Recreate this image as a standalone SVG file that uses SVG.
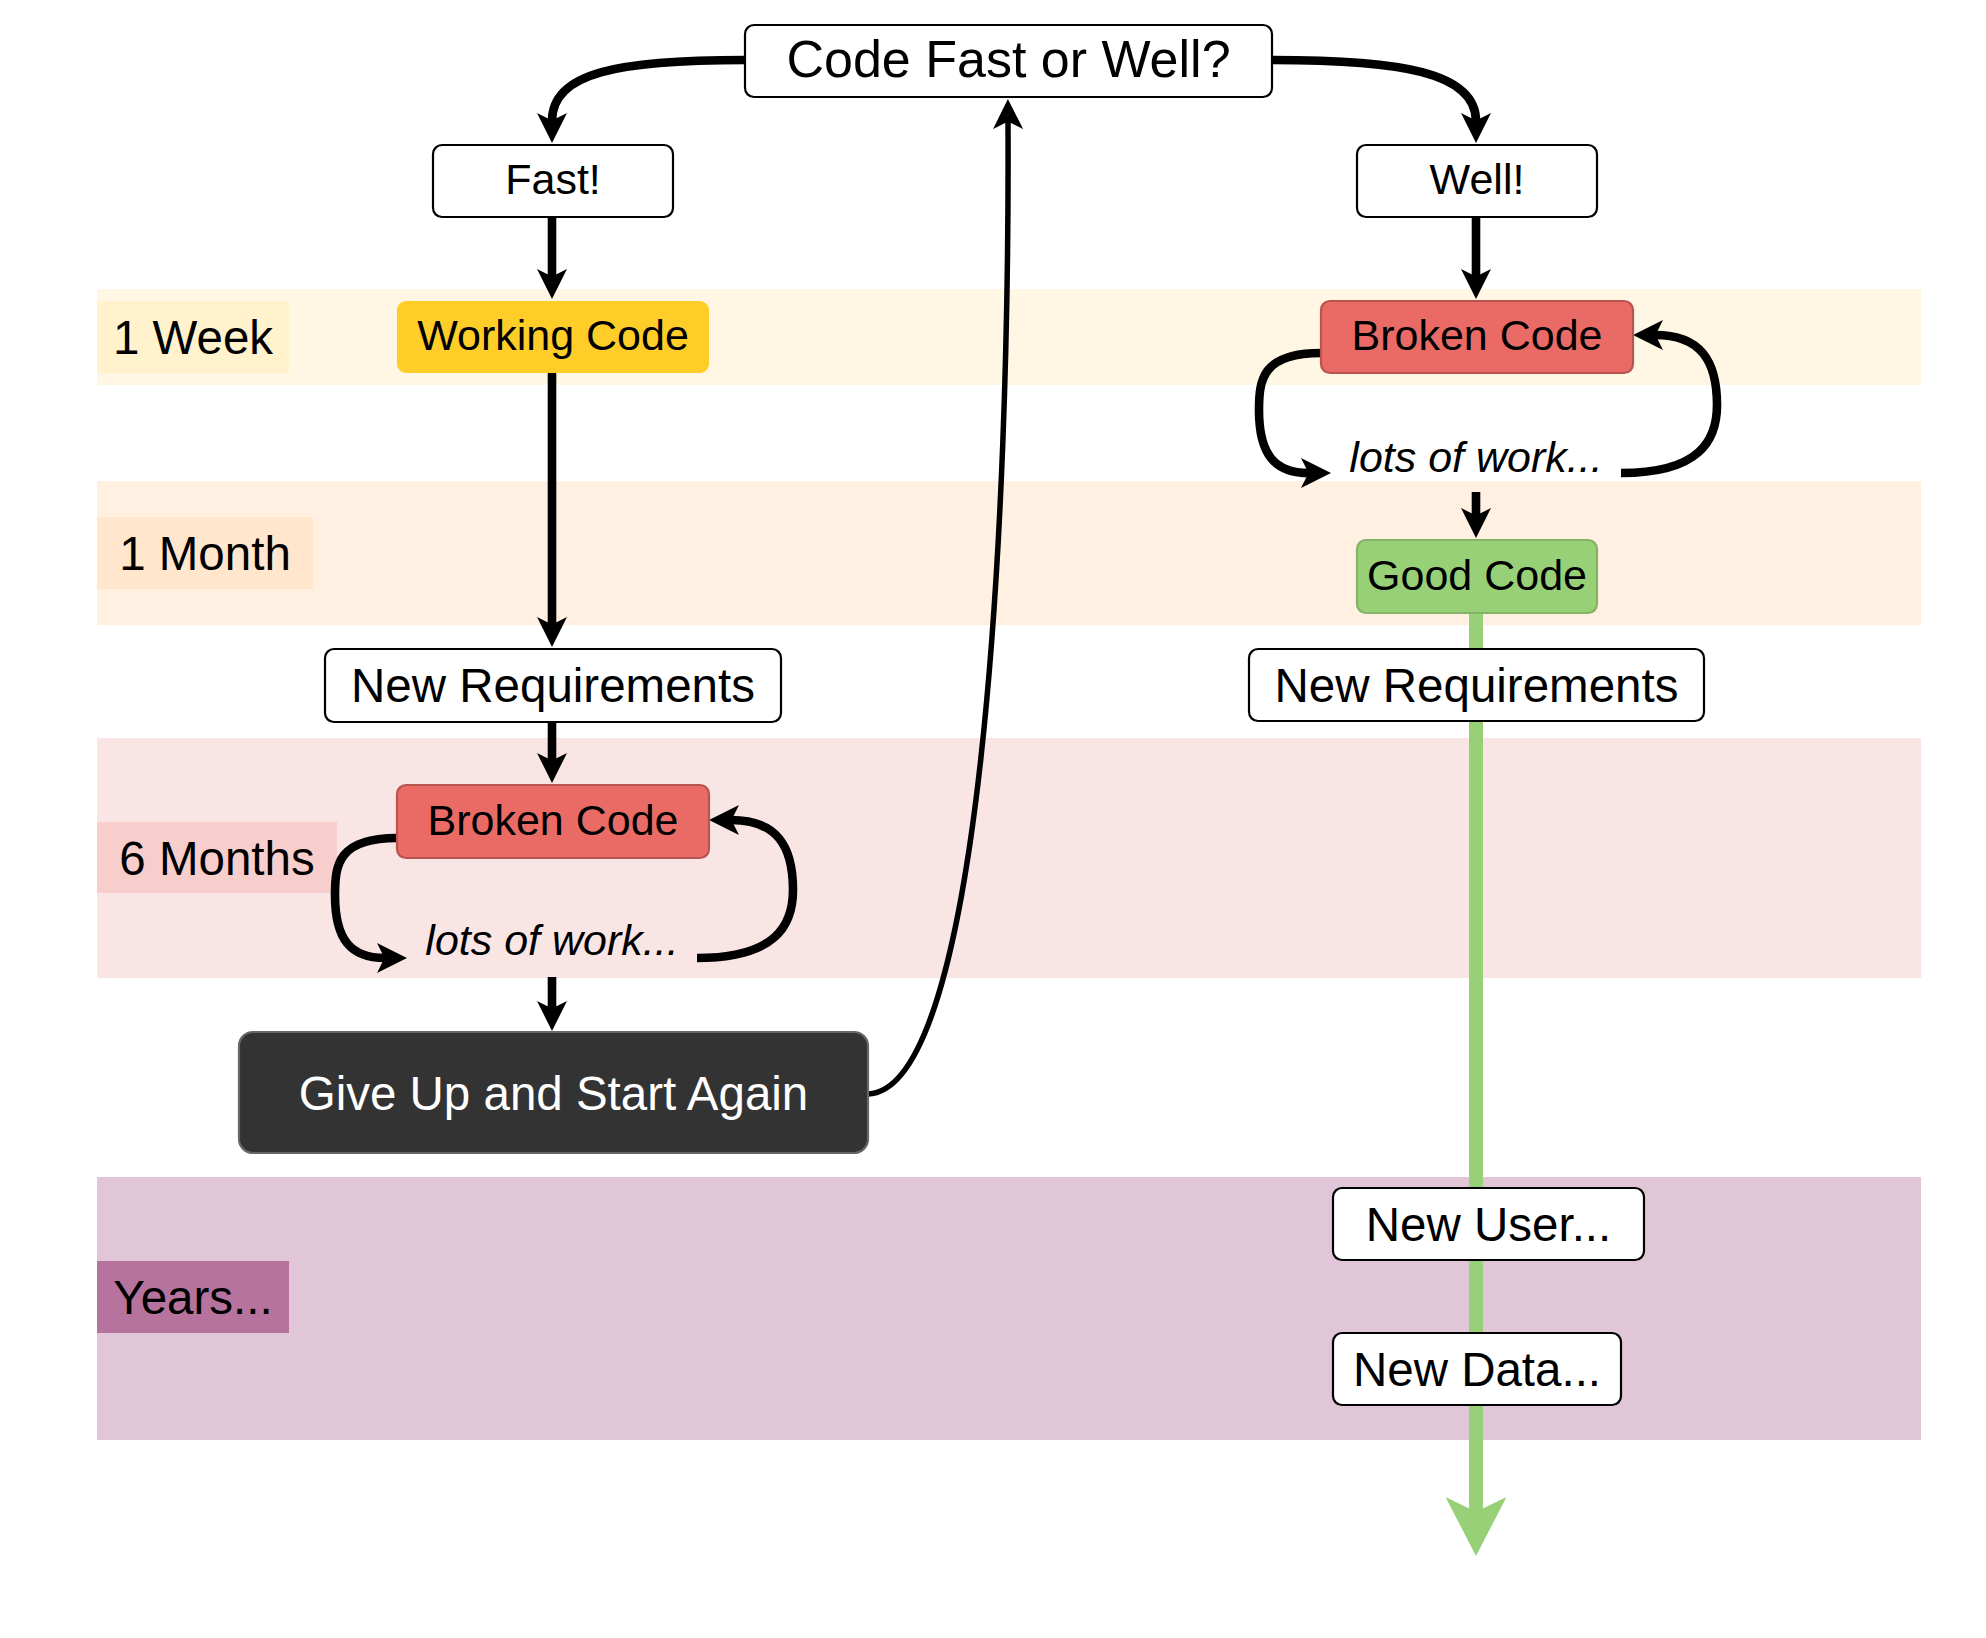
<svg xmlns="http://www.w3.org/2000/svg" width="1986" height="1638" viewBox="0 0 1986 1638">
<defs>
<marker id="ah" markerUnits="userSpaceOnUse" markerWidth="30" markerHeight="30" refX="8" refY="15" orient="auto" viewBox="0 0 30 30"><path d="M0,0 L30,15 L0,30 L7.5,15 Z" fill="#000"/></marker>
<marker id="ahg" markerUnits="userSpaceOnUse" markerWidth="59" markerHeight="61" refX="15" refY="30.5" orient="auto" viewBox="0 0 59 61"><path d="M0,0 L59,30.5 L0,61 L14.75,30.5 Z" fill="#97D077"/></marker>
<style>
.t{font-family:"Liberation Sans",Arial,Helvetica,sans-serif;fill:#000;text-anchor:middle}
.s43{font-size:43px}
.s47{font-size:47.5px}
.s52{font-size:52px}
.it{font-style:italic}
.box{fill:#fff;stroke:#000;stroke-width:2.2}
.red{fill:#EA6B66;stroke:#B85450;stroke-width:2.2}
.e{fill:none;stroke:#000;stroke-width:8.6;marker-end:url(#ah)}
</style>
</defs>
<rect width="1986" height="1638" fill="#fff"/>
<g id="bands">
<rect x="97" y="289" width="1824" height="96" fill="#FFF7E4"/>
<rect x="97" y="481" width="1824" height="144" fill="#FFF0E2"/>
<rect x="97" y="738" width="1824" height="240" fill="#FAE5E5"/>
<rect x="97" y="1177" width="1824" height="263" fill="#E1C6D8"/>
</g>
<g id="label-week"><rect x="97" y="301" width="192" height="72" fill="#FFF2CC"/><text class="t s47" x="193" y="354">1 Week</text></g>
<g id="label-month"><rect x="97" y="517" width="216" height="72" fill="#FFE6CC"/><text class="t s47" x="205" y="570">1 Month</text></g>
<g id="label-6months"><rect x="97" y="822" width="240" height="71" fill="#F8CECC"/><text class="t s47" x="217" y="874.5">6 Months</text></g>
<g id="label-years"><rect x="97" y="1261" width="192" height="72" fill="#B5739D"/><text class="t s47" x="193" y="1314">Years...</text></g>
<g id="connectors">
<path d="M1476 613 V1512" fill="none" stroke="#97D077" stroke-width="14" marker-end="url(#ahg)"/>
<path class="e" d="M745 60 C620 60 552 72 552 121"/>
<path class="e" d="M1272 60 C1400 60 1476 72 1476 121"/>
<path class="e" d="M552 217 V277"/>
<path class="e" d="M1476 217 V277"/>
<path class="e" d="M552 373 V625"/>
<path class="e" d="M552 722 V761"/>
<path class="e" d="M1321 353 C1262 353 1259 380 1259 410 C1259 455 1275 473 1309 473"/>
<path class="e" d="M1621 473 C1700 473 1717 440 1717 405 C1717 360 1700 335 1655 335"/>
<path class="e" d="M1476 492 V516"/>
<path class="e" d="M397 838 C338 838 335 865 335 895 C335 940 351 958 385 958"/>
<path class="e" d="M697 958 C776 958 793 925 793 890 C793 845 776 820 731 820"/>
<path class="e" d="M552 977 V1009"/>
<path class="e" style="stroke-width:5.5" d="M868 1094 C980 1090 1010 530 1008 121"/>
</g>
<g id="n-question"><rect class="box" x="745" y="25" width="527" height="72" rx="9"/><text class="t s52" x="1008.5" y="77">Code Fast or Well?</text></g>
<g id="n-fast"><rect class="box" x="433" y="145" width="240" height="72" rx="9"/><text class="t s43" x="553" y="194">Fast!</text></g>
<g id="n-well"><rect class="box" x="1357" y="145" width="240" height="72" rx="9"/><text class="t s43" x="1477" y="194">Well!</text></g>
<g id="n-working"><rect x="397" y="301" width="312" height="72" rx="9" fill="#FFCD28"/><text class="t s43" x="553" y="350">Working Code</text></g>
<g id="n-broken-r"><rect class="red" x="1321" y="301" width="312" height="72" rx="9"/><text class="t s43" x="1477" y="350">Broken Code</text></g>
<g id="n-lots-r"><text class="t s43 it" x="1476" y="472">lots of work...</text></g>
<g id="n-good"><rect x="1357" y="540" width="240" height="73" rx="9" fill="#97D077" stroke="#82B366" stroke-width="2.2"/><text class="t s43" x="1477" y="589.5">Good Code</text></g>
<g id="n-newreq-l"><rect class="box" x="325" y="649" width="456" height="73" rx="9"/><text class="t s47" x="553" y="702.4">New Requirements</text></g>
<g id="n-newreq-r"><rect class="box" x="1249" y="649" width="455" height="72" rx="9"/><text class="t s47" x="1476.5" y="702">New Requirements</text></g>
<g id="n-broken-l"><rect class="red" x="397" y="785" width="312" height="73" rx="9"/><text class="t s43" x="553" y="834.5">Broken Code</text></g>
<g id="n-lots-l"><text class="t s43 it" x="552" y="955">lots of work...</text></g>
<g id="n-giveup"><rect x="239" y="1032" width="629" height="121" rx="14" fill="#333333" stroke="#666666" stroke-width="2.2"/><text class="t s47" style="fill:#fff" x="553.5" y="1109.5">Give Up and Start Again</text></g>
<g id="n-newuser"><rect class="box" x="1333" y="1188" width="311" height="72" rx="9"/><text class="t s47" x="1488.5" y="1241">New User...</text></g>
<g id="n-newdata"><rect class="box" x="1333" y="1333" width="288" height="72" rx="9"/><text class="t s47" x="1477" y="1386">New Data...</text></g>
</svg>
